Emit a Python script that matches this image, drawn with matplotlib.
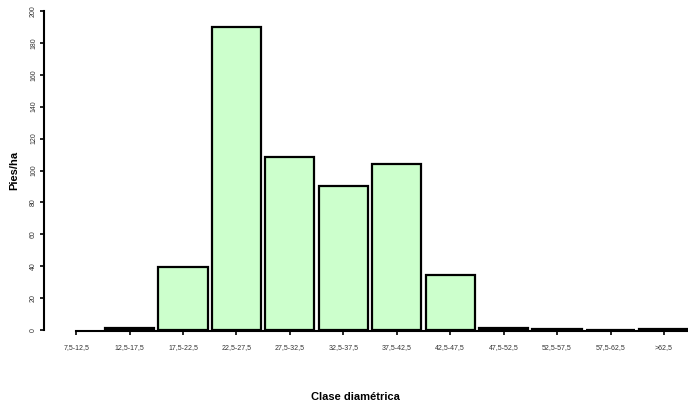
import matplotlib as mpl

mpl.use('Agg')
import matplotlib.pyplot as plt

clases = ["7,5-12,5", "12,5-17,5", "17,5-22,5", "22,5-27,5", "27,5-32,5", "32,5-37,5",
          "37,5-42,5", "42,5-47,5", "47,5-52,5", "52,5-57,5", "57,5-62,5", ">62,5"]
pies_ha = [0, 1.5, 39.5, 190, 108.5, 90, 104, 34.5, 1.5, 0.6, 0.3, 0.6]

plt.rcParams['font.family'] = ['Liberation Sans', 'DejaVu Sans']

fig = plt.figure(figsize=(6.88, 4.05), dpi=100)
ax = fig.add_axes([0.064, 0.185, 0.936, 0.788])

x = list(range(len(clases)))
# zero-height bars get no outline (nothing drawn in the original)
lw = [0 if v == 0 else 1.6 for v in pies_ha]
ax.bar(x, pies_ha, width=0.92, color='#ccffcc', edgecolor='black', linewidth=lw)

ax.set_xlim(-0.6, 11.45)
ax.set_ylim(0, 200)
ax.set_yticks(range(0, 201, 20))
ax.set_xticks(x)
ax.set_xticklabels(clases)
ax.tick_params(axis='y', labelsize=5, length=3, width=1.2, direction='out', pad=2,
               labelcolor='#333333', labelrotation=90)
ax.tick_params(axis='x', labelsize=5, length=3, width=1.2, direction='out', pad=6,
               labelcolor='#333333')
for lbl in ax.get_yticklabels():
    lbl.set_verticalalignment('center')

ax.spines['top'].set_visible(False)
ax.spines['right'].set_visible(False)
ax.spines['left'].set_linewidth(1.5)
ax.spines['bottom'].set_linewidth(1.5)
ax.spines['bottom'].set_bounds(0, 11.45)
ax.spines['bottom'].set_position(('outward', 1))

ax.set_ylabel("Pies/ha", fontsize=8, fontweight='bold', labelpad=8)
ax.set_xlabel("Clase diamétrica", fontsize=8, fontweight='bold')
ax.xaxis.set_label_coords(0.483, -0.193)

fig.savefig("out.png", dpi=100)
